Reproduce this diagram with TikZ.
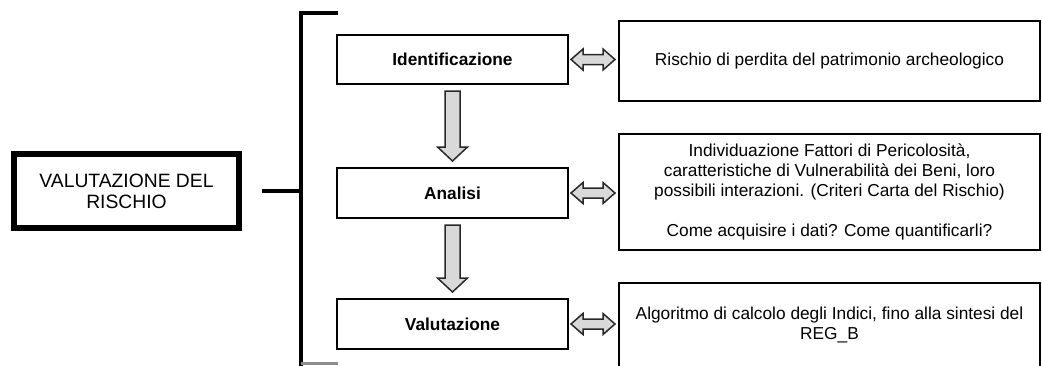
\documentclass[tikz,border=0pt]{standalone}
\usepackage{fontspec}
\setmainfont{Liberation Sans}
\usetikzlibrary{calc}
\definecolor{arrowfill}{RGB}{217,217,217}
\definecolor{arrowline}{RGB}{40,40,40}
\tikzset{
  stepbox/.style={draw=black, line width=2pt, inner sep=0pt, align=center, font=\fontsize{17.3}{20}\selectfont},
  mainbox/.style={draw=black, line width=5.5pt, inner sep=0pt, align=center, font=\fontsize{19.3}{21}\selectfont},
  blockarrow/.style={fill=arrowfill, draw=arrowline, line width=1.5pt, line join=miter},
  bracketline/.style={line width=4pt, draw=black}
}
\begin{document}
\begin{tikzpicture}[x=1pt, y=-1pt]
\useasboundingbox (0,0) rectangle (1042,365);
% left main box
\node[mainbox, minimum width=225pt, minimum height=74pt] (vdr) at (126.5,191) {VALUTAZIONE DEL\\RISCHIO};
% bracket
\coordinate (bx) at (301,190);
\coordinate (bt) at (338,13);
\coordinate (bb) at (338,363);
\draw[bracketline] (bt) -- (bt -| bx) -- ($(bb -| bx)+(0,8)$);
\draw[line width=3pt, draw=black!45] (bb -| bx) -- (bb);
\draw[bracketline] ($(vdr.east)+(20,0)$) -- (vdr.east -| bx);
% step boxes
\node[stepbox, minimum width=231pt, minimum height=49pt, font=\fontsize{17.3}{20}\selectfont\bfseries] (ident) at (452.5,59.5) {Identificazione};
\node[stepbox, minimum width=231pt, minimum height=50pt, font=\fontsize{17.3}{20}\selectfont\bfseries] (anal) at (452.5,193) {Analisi};
\node[stepbox, minimum width=231pt, minimum height=50pt, font=\fontsize{17.3}{20}\selectfont\bfseries] (valu) at (452.5,324) {Valutazione};
% right boxes
\node[stepbox, minimum width=421pt, minimum height=80pt] (r1) at (829.5,61) {Rischio di perdita del patrimonio archeologico};
\node[stepbox, minimum width=421pt, minimum height=116pt] (r2) at (829.5,192) {Individuazione Fattori di Pericolosità,\\caratteristiche di Vulnerabilità dei Beni, loro\\possibili interazioni. (Criteri Carta del Rischio)\\[20pt]Come acquisire i dati? Come quantificarli?};
\node[stepbox, minimum width=421pt, minimum height=84pt] (r3) at (829.5,325) {Algoritmo di calcolo degli Indici, fino alla sintesi del\\REG\_B};
% down arrows
\foreach \a/\b in {ident/anal, anal/valu}{
  \draw[blockarrow]
    ($(\a.south)+(-7.5,6)$) -- ($(\b.north)+(-7.5,-20)$) -- ($(\b.north)+(-15,-20)$) -- ($(\b.north)+(0,-6)$)
    -- ($(\b.north)+(15,-20)$) -- ($(\b.north)+(7.5,-20)$) -- ($(\a.south)+(7.5,6)$) -- cycle;
}
% double arrows
\foreach \a/\b in {ident/r1, anal/r2, valu/r3}{
  \draw[blockarrow]
    ($(\a.east)+(2,0)$) -- ($(\a.east)+(14,-10.5)$) -- ($(\a.east)+(14,-5)$)
    -- ($(\a.east -| \b.west)+(-15,-5)$) -- ($(\a.east -| \b.west)+(-15,-10.5)$) -- ($(\a.east -| \b.west)+(-3,0)$)
    -- ($(\a.east -| \b.west)+(-15,10.5)$) -- ($(\a.east -| \b.west)+(-15,5)$)
    -- ($(\a.east)+(14,5)$) -- ($(\a.east)+(14,10.5)$) -- cycle;
}
\end{tikzpicture}
\end{document}
